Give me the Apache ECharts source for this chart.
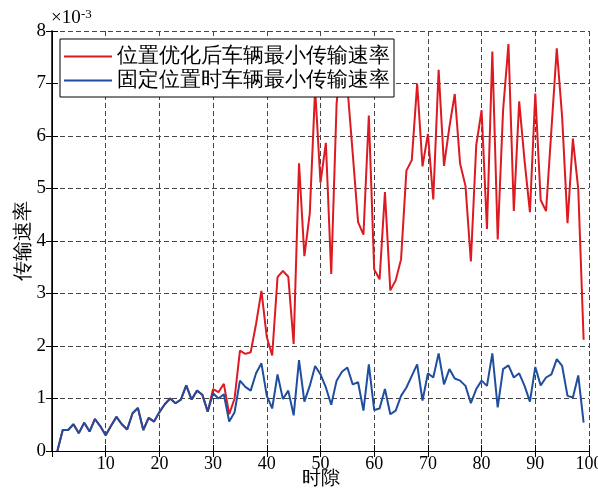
<!DOCTYPE html>
<html>
<head>
<meta charset="utf-8">
<script src="https://cdn.jsdelivr.net/npm/echarts@6/dist/echarts.min.js"></script>
<style>
html,body{margin:0;padding:0;background:#fff;}
#c{width:598px;height:489px;}
</style>
</head>
<body>
<div id="c"></div>
<script>
// x values: time slots 1..99 ; y values in units of 1e-3
const seriesNames = ['位置优化后车辆最小传输速率', '固定位置时车辆最小传输速率'];
const xTicks = [0, 10, 20, 30, 40, 50, 60, 70, 80, 90, 100];
const yTicks = [0, 1, 2, 3, 4, 5, 6, 7, 8];

const fixedRate = [
  0, 0.40, 0.40, 0.51, 0.34, 0.54, 0.37, 0.61, 0.47, 0.30,
  0.48, 0.65, 0.51, 0.41, 0.72, 0.82, 0.40, 0.63, 0.56, 0.74,
  0.89, 1.00, 0.91, 0.98, 1.25, 0.98, 1.15, 1.07, 0.75, 1.10,
  1.00, 1.08, 0.56, 0.74, 1.34, 1.22, 1.15, 1.48, 1.67, 1.05,
  0.81, 1.46, 0.99, 1.15, 0.68, 1.73, 0.94, 1.24, 1.62, 1.46,
  1.21, 0.88, 1.34, 1.51, 1.59, 1.27, 1.31, 0.77, 1.65, 0.78,
  0.81, 1.18, 0.70, 0.77, 1.05, 1.21, 1.43, 1.65, 0.96, 1.48,
  1.40, 1.86, 1.27, 1.56, 1.38, 1.34, 1.24, 0.91, 1.18, 1.34,
  1.24, 1.86, 0.83, 1.56, 1.63, 1.40, 1.48, 1.24, 0.94, 1.60,
  1.25, 1.40, 1.46, 1.75, 1.62, 1.05, 1.02, 1.44, 0.54
];

const optimizedRate = [
  0, 0.40, 0.40, 0.51, 0.34, 0.54, 0.37, 0.61, 0.47, 0.30,
  0.48, 0.65, 0.51, 0.41, 0.72, 0.82, 0.40, 0.63, 0.56, 0.74,
  0.89, 1.00, 0.91, 0.98, 1.25, 0.98, 1.15, 1.07, 0.75, 1.18,
  1.12, 1.28, 0.70, 1.00, 1.91, 1.85, 1.88, 2.42, 3.05, 2.17,
  1.82, 3.31, 3.43, 3.32, 2.04, 5.48, 3.71, 4.52, 6.90, 5.11,
  5.87, 3.37, 6.62, 7.60, 6.95, 5.67, 4.36, 4.12, 6.39, 3.46,
  3.27, 4.93, 3.06, 3.25, 3.65, 5.34, 5.54, 7.00, 5.42, 6.04,
  4.79, 7.26, 5.43, 6.17, 6.80, 5.47, 5.05, 3.61, 5.82, 6.49,
  4.23, 7.61, 4.03, 6.49, 7.75, 4.57, 6.66, 5.53, 4.55, 6.81,
  4.78, 4.57, 6.12, 7.67, 6.36, 4.34, 5.95, 4.99, 2.12
];

const toPairs = arr => arr.map((v, i) => [i + 1, v]);

const serif = 'Liberation Serif';
const redColor = '#dd1a22';
const blueColor = '#1f4e9e';
const gridDash = { color: '#444', width: 1, type: [5, 3] };

const chart = echarts.init(document.getElementById('c'), null, { renderer: 'canvas' });
chart.setOption({
  animation: false,
  backgroundColor: '#fff',
  grid: { left: 52, right: 9, top: 31, bottom: 38, containLabel: false, outerBoundsMode: 'none' },
  legend: {
    show: true,
    data: [
      { name: seriesNames[0], icon: 'rect', itemStyle: { color: redColor } },
      { name: seriesNames[1], icon: 'rect', itemStyle: { color: blueColor } }
    ],
    orient: 'vertical',
    left: 60, top: 39,
    padding: [7, 4, 6, 4],
    itemGap: 3,
    itemWidth: 48,
    itemHeight: 2,
    backgroundColor: '#fff',
    borderColor: '#000',
    borderWidth: 1,
    textStyle: { fontFamily: serif, fontSize: 20.8, color: '#000' }
  },
  graphic: [
    { type: 'text', left: 51, top: 9, style: { text: '×10', font: '19px "Liberation Serif"', fill: '#000' } },
    { type: 'text', left: 81, top: 8, style: { text: '-3', font: '13px "Liberation Serif"', fill: '#000' } }
  ],
  xAxis: [
    {
      type: 'value', min: xTicks[0], max: xTicks[xTicks.length - 1], interval: 10,
      name: '时隙', nameLocation: 'middle', nameGap: 19, nameMoveOverlap: false,
      nameTextStyle: { fontFamily: serif, fontSize: 19, color: '#000' },
      axisLine: { show: true, lineStyle: { color: '#000', width: 1 } },
      axisTick: { show: true, inside: true, length: 6, lineStyle: { color: '#000' } },
      axisLabel: { fontFamily: serif, fontSize: 18, color: '#000', margin: 4,
        formatter: v => (v === 0 ? '' : String(v)) },
      splitLine: { show: true, lineStyle: gridDash }
    },
    {
      type: 'value', position: 'top', min: 0, max: 100, interval: 10,
      axisLine: { show: true, lineStyle: { color: '#000', width: 1 } },
      axisTick: { show: true, inside: true, length: 6, lineStyle: { color: '#000' } },
      axisLabel: { show: false }, splitLine: { show: false }
    }
  ],
  yAxis: [
    {
      type: 'value', min: yTicks[0], max: yTicks[yTicks.length - 1], interval: 1,
      name: '传输速率', nameLocation: 'middle', nameGap: 18, nameRotate: 90, nameMoveOverlap: false,
      nameTextStyle: { fontFamily: serif, fontSize: 20, color: '#000' },
      axisLine: { show: true, lineStyle: { color: '#000', width: 1 } },
      axisTick: { show: true, inside: true, length: 6, lineStyle: { color: '#000' } },
      axisLabel: { fontFamily: serif, fontSize: 19, color: '#000', margin: 6 },
      splitLine: { show: true, lineStyle: gridDash }
    },
    {
      type: 'value', position: 'right', min: 0, max: 8, interval: 1,
      axisLine: { show: true, lineStyle: { color: '#000', width: 1.5 } },
      axisTick: { show: true, inside: true, length: 6, lineStyle: { color: '#000' } },
      axisLabel: { show: false }, splitLine: { show: false }
    }
  ],
  series: [
    {
      name: seriesNames[0], type: 'line', data: toPairs(optimizedRate),
      symbol: 'none', showSymbol: false,
      lineStyle: { color: redColor, width: 2 }, itemStyle: { color: redColor }
    },
    {
      name: seriesNames[1], type: 'line', data: toPairs(fixedRate),
      symbol: 'none', showSymbol: false,
      lineStyle: { color: blueColor, width: 2 }, itemStyle: { color: blueColor }
    }
  ]
});
</script>
</body>
</html>
